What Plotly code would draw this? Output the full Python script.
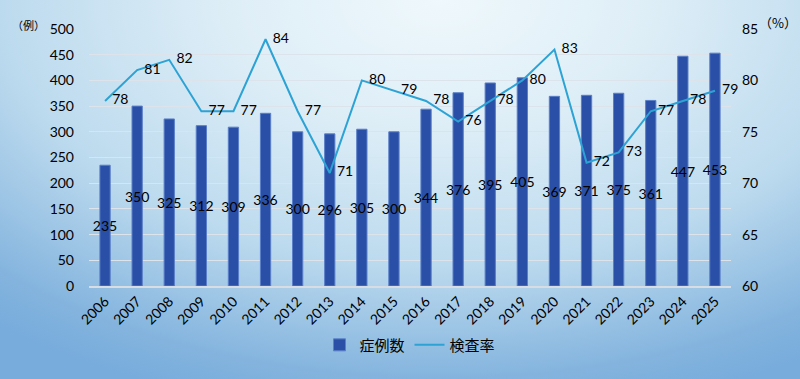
import plotly.graph_objects as go
import base64

years = [str(y) for y in range(2006, 2026)]
cases = [235, 350, 325, 312, 309, 336, 300, 296, 305, 300, 344, 376, 395, 405, 369, 371, 375, 361, 447, 453]
rate = [78, 81, 82, 77, 77, 84, 77, 71, 80, 79, 78, 76, 78, 80, 83, 72, 73, 77, 78, 79]
left_ticks = list(range(0, 501, 50))
right_ticks = list(range(60, 86, 5))

svg = """<svg xmlns='http://www.w3.org/2000/svg' width='800' height='379'>
<defs><radialGradient id='g' gradientUnits='userSpaceOnUse' cx='0' cy='0' r='1'
 gradientTransform='translate(440,0) scale(700,420)'>
<stop offset='0' stop-color='#eff8fc'/>
<stop offset='0.3' stop-color='#deeef7'/>
<stop offset='0.63' stop-color='#bcdaee'/>
<stop offset='0.9' stop-color='#84b4de'/>
<stop offset='1' stop-color='#78acdc'/>
</radialGradient></defs>
<rect width='800' height='379' fill='url(#g)'/></svg>"""
bg = "data:image/svg+xml;base64," + base64.b64encode(svg.encode()).decode()

font_main = "Lato, 'Noto Sans CJK JP', sans-serif"
PW, PH = 642, 257

fig = go.Figure()
fig.add_trace(go.Bar(
    x=years, y=cases, name="症例数",
    marker=dict(color="#2a4fa6", line=dict(color="#5b7fc8", width=1)),
    text=[str(v) for v in cases], textposition="inside", insidetextanchor="middle",
    textangle=0, constraintext="none",
    textfont=dict(color="black", size=14, family=font_main),
    yaxis="y",
))
fig.add_trace(go.Scatter(
    x=years, y=rate, name="検査率", mode="lines+text",
    line=dict(color="#2ca3d4", width=2),
    text=["  " + str(v) for v in rate], textposition="middle right",
    textfont=dict(color="black", size=14, family=font_main),
    yaxis="y2", cliponaxis=False,
))

fig.update_layout(
    width=800, height=379,
    margin=dict(l=89, r=69, t=29, b=93, autoexpand=False),
    paper_bgcolor="rgba(0,0,0,0)", plot_bgcolor="rgba(0,0,0,0)",
    font=dict(family=font_main, size=14, color="black"),
    bargap=0.68,
    images=[dict(source=bg, xref="paper", yref="paper", x=-89/PW, y=1+29/PH,
                 sizex=800/PW, sizey=379/PH, xanchor="left", yanchor="top",
                 sizing="stretch", layer="below")],
    xaxis=dict(tickangle=-45, showgrid=False, showline=True, linecolor="#d8dde3",
               linewidth=1.5, ticks="", tickfont=dict(size=14), automargin=False,
               range=[-0.5, len(years) - 0.5]),
    yaxis=dict(range=[0, 500], tickvals=left_ticks, showgrid=True, gridcolor="#dde3ea",
               gridwidth=1, zeroline=False, ticks="", ticklabelstandoff=14,
               tickfont=dict(size=14), automargin=False),
    yaxis2=dict(range=[60, 85], tickvals=right_ticks, overlaying="y", side="right",
                showgrid=False, zeroline=False, ticks="", ticklabelstandoff=10,
                tickfont=dict(size=14), automargin=False),
    legend=dict(orientation="h", x=0.5, xanchor="center", y=-0.23, yanchor="middle",
                font=dict(size=15, family="'Noto Sans CJK JP', sans-serif"),
                bgcolor="rgba(0,0,0,0)", itemwidth=30),
    annotations=[
        dict(text="（例）", xref="paper", yref="paper", x=-89/PW + 10/PW, y=1+4/PH,
             xanchor="left", yanchor="middle", showarrow=False,
             font=dict(size=11, family="'Noto Sans CJK JP', sans-serif")),
        dict(text="（%）", xref="paper", yref="paper", x=1+26/PW, y=1+7/PH,
             xanchor="left", yanchor="middle", showarrow=False,
             font=dict(size=13, family="'Noto Sans CJK JP', sans-serif")),
    ],
)

fig.write_html("out.html", config={"displayModeBar": False},
               post_script="document.body.style.margin='0';")
